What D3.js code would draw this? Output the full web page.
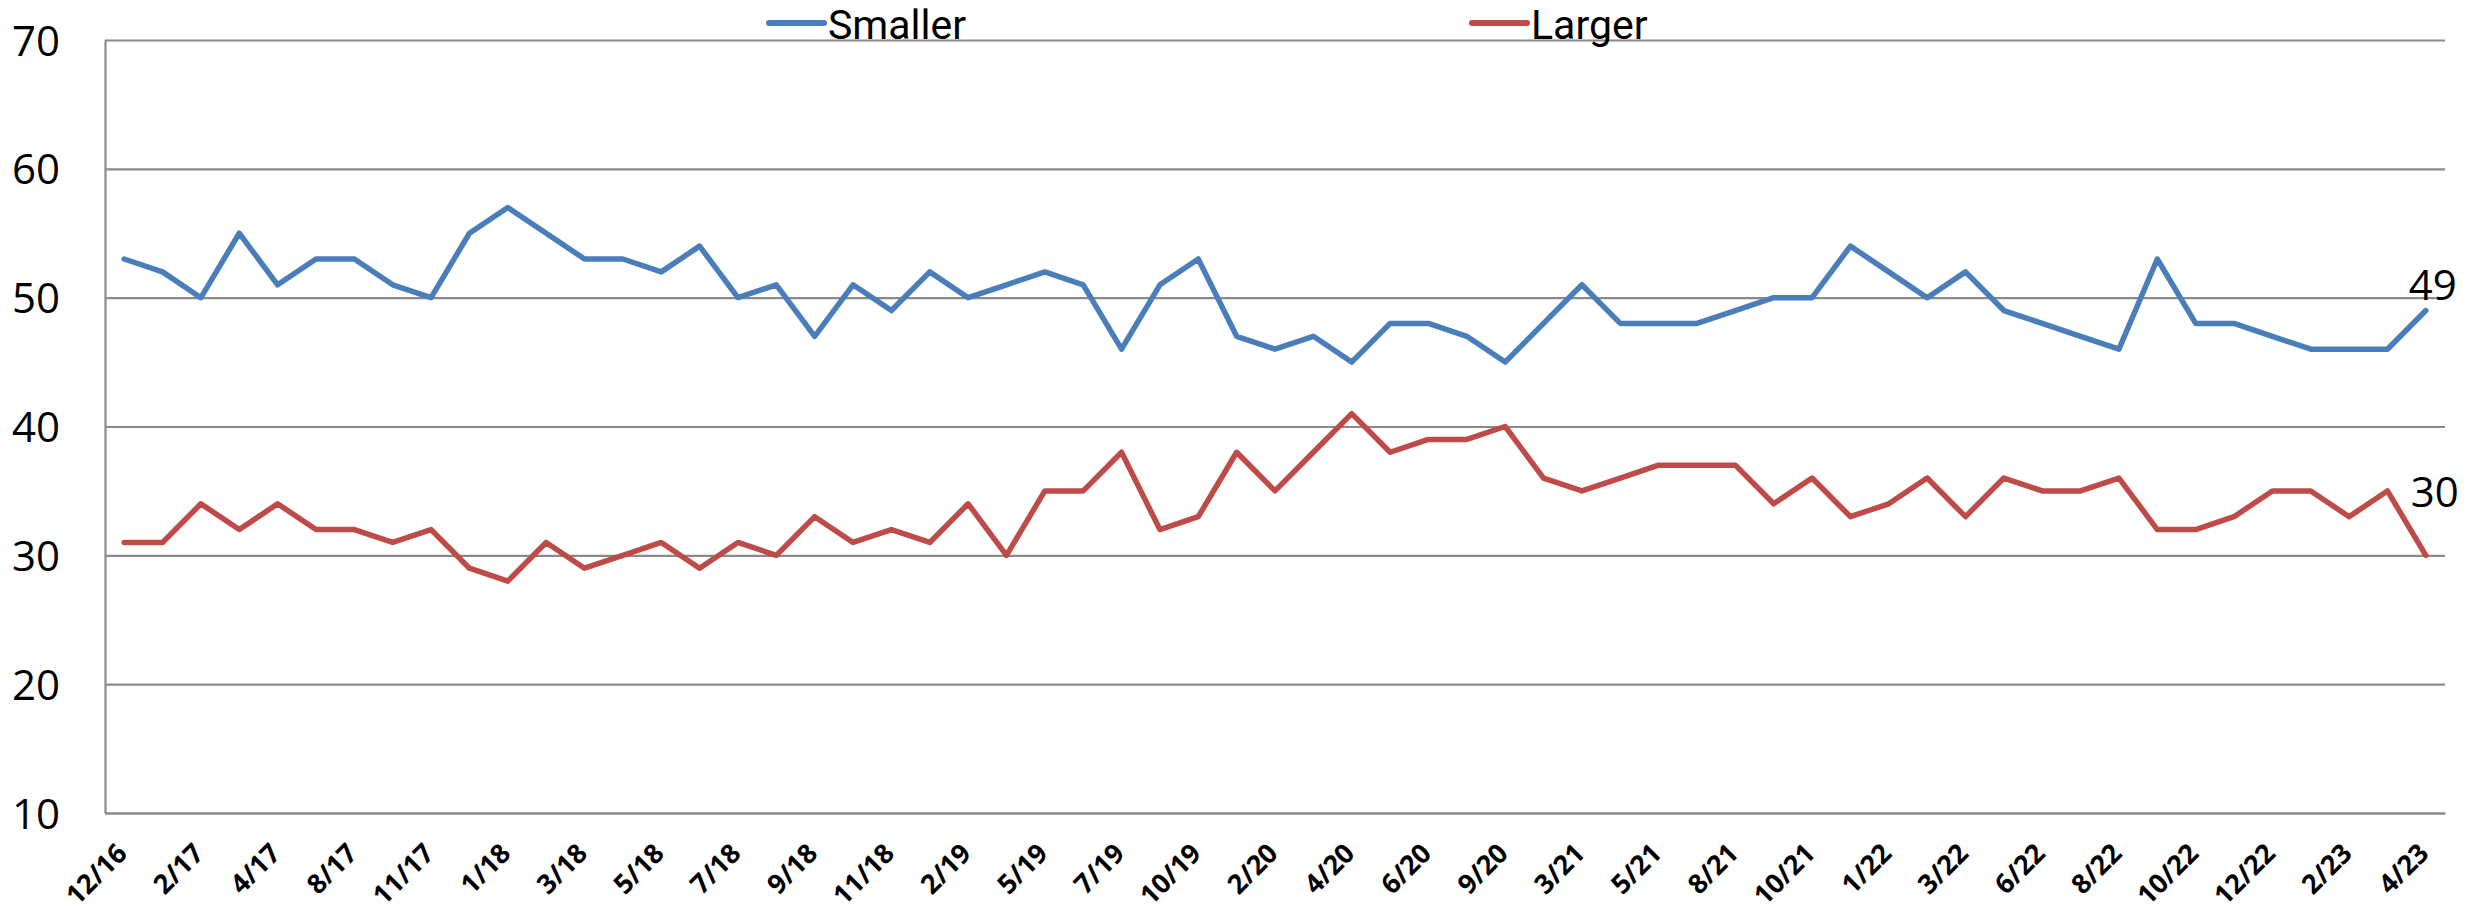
<!DOCTYPE html>
<html>
<head>
<meta charset="utf-8">
<script src="https://cdn.jsdelivr.net/npm/d3@7"></script>
<style>
  html, body { margin: 0; padding: 0; background: #fff; }
  svg { display: block; }
</style>
</head>
<body>
<svg id="chart" width="2470" height="914"></svg>
<script>
const categories = ["12/16","1/17","2/17","3/17","4/17","6/17","8/17","10/17","11/17","12/17",
  "1/18","2/18","3/18","4/18","5/18","6/18","7/18","8/18","9/18","10/18",
  "11/18","1/19","2/19","3/19","5/19","6/19","7/19","9/19","10/19","1/20",
  "2/20","3/20","4/20","5/20","6/20","8/20","9/20","1/21","3/21","4/21",
  "5/21","7/21","8/21","9/21","10/21","12/21","1/22","2/22","3/22","5/22",
  "6/22","7/22","8/22","9/22","10/22","11/22","12/22","1/23","2/23","3/23","4/23"];
const smaller = [53,52,50,55,51,53,53,51,50,55,57,55,53,53,52,54,50,51,47,
  51,49,52,50,51,52,51,46,51,53,47,46,47,45,48,48,47,45,48,51,48,
  48,48,49,50,50,54,52,50,52,49,48,47,46,53,48,48,47,46,46,46,49];
const larger = [31,31,34,32,34,32,32,31,32,29,28,31,29,30,31,29,31,30,33,
  31,32,31,34,30,35,35,38,32,33,38,35,38,41,38,39,39,40,36,35,36,
  37,37,37,34,36,33,34,36,33,36,35,35,36,32,32,33,35,35,33,35,30];
const yTicks = [10,20,30,40,50,60,70];
const seriesNames = ["Smaller","Larger"];
const seriesColors = ["#4A7EBB","#BE4B48"];

const svg = d3.select("#chart");
const L = 105, R = 2445, T = 40, B = 813;
const font = "'Open Sans', 'Noto Sans', sans-serif";
const legendFont = "Roboto, 'Open Sans', sans-serif";

const x = d3.scalePoint().domain(categories).range([L, R]).padding(0.5);
const y = d3.scaleLinear().domain([10, 70]).range([B, T]);

// gridlines
const grid = svg.append("g").attr("transform", `translate(${L},0)`)
  .call(d3.axisLeft(y).tickValues(yTicks).tickSize(-(R - L)).tickFormat(""));
grid.select(".domain").remove();
grid.selectAll("line").attr("stroke", "#8a8a8a").attr("stroke-width", 2.2);

// y axis
const yAxis = svg.append("g").attr("transform", `translate(${L},0)`)
  .call(d3.axisLeft(y).tickValues(yTicks).tickSize(0).tickPadding(45));
yAxis.select(".domain").attr("stroke", "#8a8a8a").attr("stroke-width", 2.2);
yAxis.selectAll("text").attr("font-family", font).attr("font-size", 42).attr("fill", "#000")
  .attr("dy", "0.36em");

// x axis
const xAxis = svg.append("g").attr("transform", `translate(0,${B})`)
  .call(d3.axisBottom(x).tickValues(categories.filter((d, i) => i % 2 === 0)).tickSize(0));
xAxis.select(".domain").attr("stroke", "#8a8a8a").attr("stroke-width", 2.2);
xAxis.selectAll("text")
  .attr("font-family", font).attr("font-size", 27).attr("font-weight", "bold").attr("fill", "#000")
  .attr("x", 0).attr("y", 0).attr("dy", 0)
  .attr("text-anchor", "end")
  .attr("transform", "translate(4,42) rotate(-45)");

// lines
const series = [smaller, larger];
const line = d3.line().x((d, i) => x(categories[i])).y(d => y(d));
series.forEach((vals, k) => {
  svg.append("path").datum(vals)
    .attr("fill", "none")
    .attr("stroke", seriesColors[k])
    .attr("stroke-width", 5.5)
    .attr("stroke-linejoin", "round")
    .attr("stroke-linecap", "round")
    .attr("d", line);
});

// end labels
const last = categories.length - 1;
svg.append("text").attr("x", x(categories[last]) + 7).attr("y", y(smaller[last]) - 11)
  .attr("text-anchor", "middle").attr("font-family", font).attr("font-size", 42)
  .text(smaller[last]);
svg.append("text").attr("x", x(categories[last]) + 9).attr("y", y(larger[last]) - 48)
  .attr("text-anchor", "middle").attr("font-family", font).attr("font-size", 42)
  .text(larger[last]);

// legend
const legendX = [769, 1472];
seriesNames.forEach((name, k) => {
  const g = svg.append("g").attr("transform", `translate(${legendX[k]},0)`);
  g.append("line").attr("x1", 0).attr("x2", 55).attr("y1", 23).attr("y2", 23)
    .attr("stroke", seriesColors[k]).attr("stroke-width", 6).attr("stroke-linecap", "round");
  g.append("text").attr("x", 59).attr("y", 39).attr("font-family", legendFont).attr("font-size", 41)
    .text(name);
});
</script>
</body>
</html>
